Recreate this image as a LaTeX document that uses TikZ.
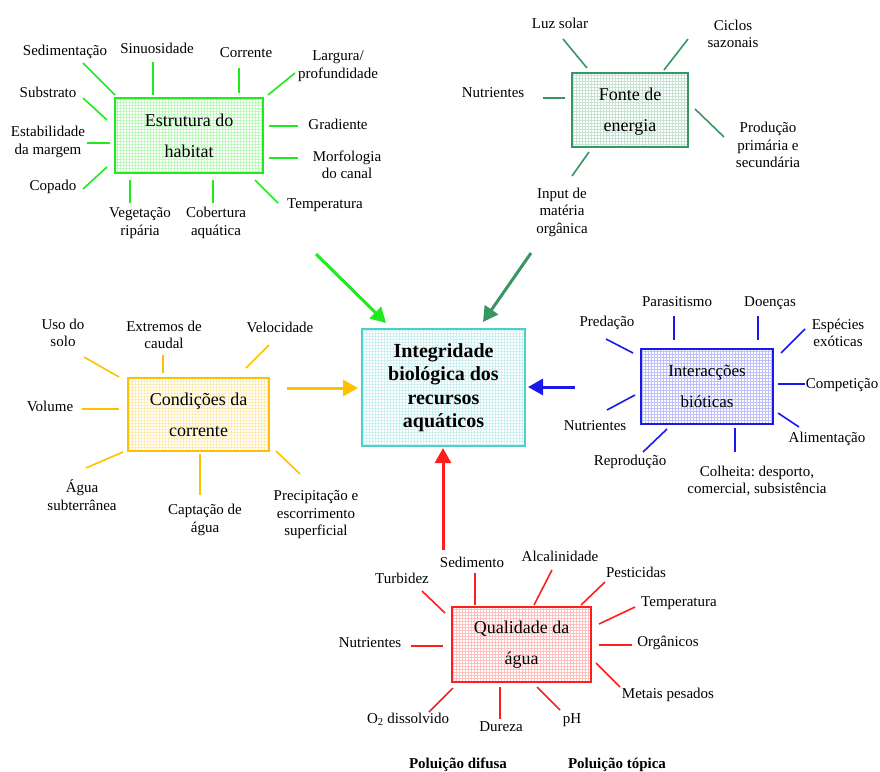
\documentclass[tikz,border=0pt]{standalone}
\usepackage{fontspec}
\setmainfont{Liberation Serif}
\usetikzlibrary{patterns,arrows.meta}
\definecolor{chab}{RGB}{30,235,30}
\definecolor{cene}{RGB}{55,150,100}
\definecolor{ccor}{RGB}{255,192,0}
\definecolor{cint}{RGB}{25,25,235}
\definecolor{cqua}{RGB}{255,30,30}
\definecolor{ccen}{RGB}{80,205,205}
\frenchspacing
\tikzset{
  lab/.style={font=\fontsize{15}{17.5}\selectfont, align=center, inner sep=0pt},
  boxt/.style={draw=#1, line width=2pt, pattern=grid, pattern color=#1!28,
    font=\fontsize{18}{31}\selectfont, align=center, inner sep=0pt},
  spoke/.style={draw=#1, line width=1.6pt},
  bigarrow/.style={draw=#1, line width=3pt, -{Triangle[length=15pt,width=16pt]}},
}
\begin{document}
\begin{tikzpicture}[x=1pt,y=-1pt]
\useasboundingbox (0,0) rectangle (880,771);

% ---- Estrutura do habitat
\node[boxt=chab, minimum width=148, minimum height=75] (hab) at (189,135.5) {Estrutura do\\habitat};
\node[lab] (h1) at (65,52) {Sedimentação};
\node[lab] (h2) at (157,48) {Sinuosidade};
\node[lab] (h3) at (246,53) {Corrente};
\node[lab] (h4) at (338,66) {Largura/\\profundidade};
\node[lab] (h5) at (48,92) {Substrato};
\node[lab] (h6) at (48,142) {Estabilidade\\da margem};
\node[lab] (h7) at (53,187) {Copado};
\node[lab] (h8) at (140,223) {Vegetação\\ripária};
\node[lab] (h9) at (216,223) {Cobertura\\aquática};
\node[lab] (h10) at (325,205) {Temperatura};
\node[lab] (h11) at (338,124) {Gradiente};
\node[lab] (h12) at (347,165) {Morfologia\\do canal};
\foreach \a/\b/\c/\d in {83/63/115/95, 153/62/153/95, 239/68/239/93, 268/95/295/73,
  83/98/107/120, 87/143/110/143, 83/189/107/167, 130/180/130/203, 213/180/213/203,
  255/180/278/203, 269/126/298/126, 269/158/298/158}
  \draw[spoke=chab] (\a,\b) -- (\c,\d);

% ---- Fonte de energia
\node[boxt=cene, minimum width=116, minimum height=74, text depth=-6pt] (ene) at (630,110) {Fonte de\\energia};
\node[lab] (e1) at (560,23) {Luz solar};
\node[lab] (e2) at (733,34) {Ciclos\\sazonais};
\node[lab] (e3) at (493,93) {Nutrientes};
\node[lab] (e4) at (768,145) {Produção\\primária e\\secundária};
\node[lab] (e5) at (562,212) {Input de\\matéria\\orgânica};
\foreach \a/\b/\c/\d in {563/39/587/68, 688/39/664/70, 543/98/565/98, 695/109/724/137, 589/152/572/176}
  \draw[spoke=cene] (\a,\b) -- (\c,\d);

% ---- Condições da corrente
\node[boxt=ccor, minimum width=141, minimum height=73] (cor) at (198.5,414.5) {Condições da\\corrente};
\node[lab] (c1) at (63,333) {Uso do\\solo};
\node[lab] (c2) at (164,335) {Extremos de\\caudal};
\node[lab] (c3) at (280,327) {Velocidade};
\node[lab] (c4) at (50,406) {Volume};
\node[lab] (c5) at (82,495) {Água\\subterrânea};
\node[lab] (c6) at (205,520) {Captação de\\água};
\node[lab] (c7) at (316,515) {Precipitação e\\escorrimento\\superficial};
\foreach \a/\b/\c/\d in {84/357/119/377, 163/355/163/373, 269/345/246/368, 82/409/119/409,
  123/452/86/468, 200/454/200/495, 276/451/300/474}
  \draw[spoke=ccor] (\a,\b) -- (\c,\d);

% ---- Integridade biológica
\node[boxt=ccen, minimum width=163, minimum height=117,
  font=\fontsize{20}{23.5}\selectfont\bfseries] (cen) at (443.5,387.5)
  {Integridade\\biológica dos\\recursos\\aquáticos};

% ---- Interacções bióticas
\node[boxt=cint, minimum width=132, minimum height=75, font=\fontsize{17}{31}\selectfont] (int) at (707,386.5) {Interacções\\bióticas};
\node[lab] (i1) at (607,323) {Predação};
\node[lab] (i2) at (677,302) {Parasitismo};
\node[lab] (i3) at (770,303) {Doenças};
\node[lab] (i4) at (838,333) {Espécies\\exóticas};
\node[lab] (i5) at (842,385) {Competição};
\node[lab] (i6) at (827,439) {Alimentação};
\node[lab] (i7) at (595,426) {Nutrientes};
\node[lab] (i8) at (630,462) {Reprodução};
\node[lab] (i9) at (757,481) {Colheita: desporto,\\comercial, subsistência};
\foreach \a/\b/\c/\d in {606/339/633/353, 674/316/674/340, 758/316/758/340, 805/329/781/353,
  778/384/805/384, 778/413/799/427, 635/395/607/410, 667/429/643/452, 735/428/735/452}
  \draw[spoke=cint] (\a,\b) -- (\c,\d);

% ---- Qualidade da água
\node[boxt=cqua, minimum width=139, minimum height=75] (qua) at (521.5,644.5) {Qualidade da\\água};
\node[lab] (q1) at (472,562) {Sedimento};
\node[lab] (q2) at (402,578) {Turbidez};
\node[lab] (q3) at (560,556) {Alcalinidade};
\node[lab] (q4) at (636,572) {Pesticidas};
\node[lab] (q5) at (679,603) {Temperatura};
\node[lab] (q6) at (668,643) {Orgânicos};
\node[lab] (q7) at (668,695) {Metais pesados};
\node[lab] (q8) at (572,720) {pH};
\node[lab] (q9) at (501,727) {Dureza};
\node[lab] (q10) at (408,719) {O\textsubscript{2} dissolvido};
\node[lab] (q11) at (370,643) {Nutrientes};
\foreach \a/\b/\c/\d in {475/573/475/605, 422/591/445/613, 552/570/534/605, 605/582/581/605,
  635/607/599/624, 599/645/632/645, 596/663/620/687, 537/687/560/710, 500/687/500/719,
  453/688/429/712, 411/646/443/646}
  \draw[spoke=cqua] (\a,\b) -- (\c,\d);

% ---- big arrows
\coordinate (ga) at (316,254); \coordinate (gb) at (386,323);
\coordinate (da) at (531,253); \coordinate (db) at (483,322);
\coordinate (ya) at (287,388); \coordinate (yb) at (358,388);
\coordinate (ba) at (575,387); \coordinate (bb) at (528,387);
\coordinate (ra) at (443,550); \coordinate (rb) at (443,448);
\draw[bigarrow=chab] (ga) -- (gb);
\draw[bigarrow=cene] (da) -- (db);
\draw[bigarrow=ccor] (ya) -- (yb);
\draw[bigarrow=cint] (ba) -- (bb);
\draw[bigarrow=cqua] (ra) -- (rb);

% ---- bottom
\node[lab, font=\fontsize{15}{17.5}\selectfont\bfseries, anchor=base] (p1) at (458,768) {Poluição difusa};
\node[lab, font=\fontsize{15}{17.5}\selectfont\bfseries, anchor=base] (p2) at (617,768) {Poluição tópica};
\end{tikzpicture}
\end{document}
